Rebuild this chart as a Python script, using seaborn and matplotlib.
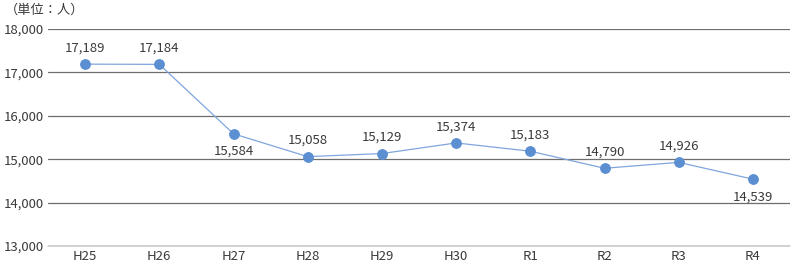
import matplotlib
matplotlib.use("Agg")
import matplotlib.pyplot as plt
import seaborn as sns
import pandas as pd

categories = ["H25", "H26", "H27", "H28", "H29", "H30", "R1", "R2", "R3", "R4"]
values = [17189, 17184, 15584, 15058, 15129, 15374, 15183, 14790, 14926, 14539]
label_below = [False, False, True, False, False, False, False, False, False, True]
yticks = [13000, 14000, 15000, 16000, 17000, 18000]

sns.set_theme(style="white")
plt.rcParams['font.family'] = ['Noto Sans CJK JP', 'DejaVu Sans']

df = pd.DataFrame({"cat": categories, "val": values, "x": range(len(categories))})

fig = plt.figure(figsize=(8, 2.73), dpi=100)
ax = fig.add_axes([0.06, 0.099, 0.9275, 0.795])

for t in yticks[1:]:
    ax.axhline(t, color="#6e6e6e", lw=0.9, zorder=0)
ax.axhline(yticks[0], color="#c4c4c4", lw=1.1, zorder=0, clip_on=False)

sns.lineplot(data=df, x="x", y="val", ax=ax, color="#7fa6dc", lw=0.9,
             marker="o", markersize=7, markerfacecolor="#5b8fd2",
             markeredgecolor="#5b8fd2", zorder=3)

fs = 9.5
tc = "#3a3a3a"
for i, (v, b) in enumerate(zip(values, label_below)):
    off = -8 if b else 7
    ax.annotate(f"{v:,}", (i, v), xytext=(0, off), textcoords="offset points",
                ha="center", va="top" if b else "bottom", fontsize=fs, color=tc)

ax.set_xlim(-0.5, len(categories) - 0.5)
ax.set_ylim(13000, 18000)
ax.set_xticks(range(len(categories)))
ax.set_xticklabels(categories, fontsize=fs, color=tc)
ax.set_yticks(yticks)
ax.set_yticklabels([f"{t:,}" for t in yticks], fontsize=fs, color=tc)
ax.tick_params(axis="both", length=0, pad=3)
ax.set_xlabel("")
ax.set_ylabel("")
for s in ax.spines.values():
    s.set_visible(False)

fig.text(0.006, 0.985, "（単位：人）", fontsize=fs, color=tc, ha="left", va="top")

fig.savefig("out.png", dpi=100)
